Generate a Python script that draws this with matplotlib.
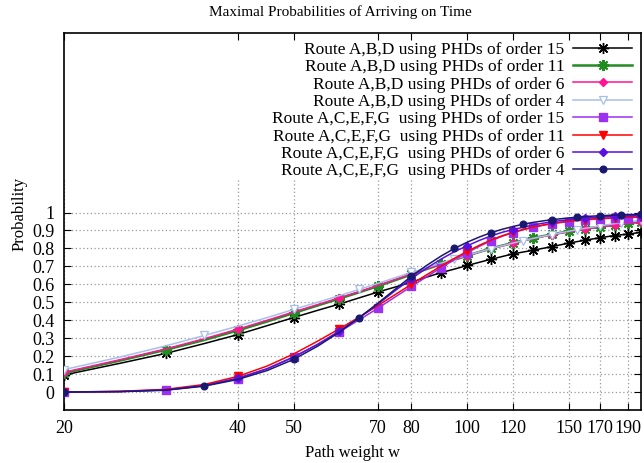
import matplotlib
matplotlib.use("Agg")
import matplotlib.pyplot as plt

plt.rcParams['font.family'] = ['Liberation Serif', 'DejaVu Serif']

x = list(range(20, 205, 5))

abd_15 = [0.095, 0.16, 0.215, 0.27, 0.32, 0.37, 0.415, 0.455, 0.49, 0.525, 0.557, 0.585, 0.612,
          0.64, 0.665, 0.685, 0.705, 0.723, 0.74, 0.755, 0.77, 0.78, 0.79, 0.80, 0.81, 0.82, 0.83,
          0.838, 0.846, 0.853, 0.86, 0.866, 0.872, 0.876, 0.88, 0.885, 0.89]
abd_11 = [0.105, 0.175, 0.235, 0.29, 0.343, 0.393, 0.44, 0.482, 0.52, 0.556, 0.59, 0.623, 0.655,
          0.685, 0.712, 0.737, 0.76, 0.781, 0.80, 0.816, 0.831, 0.845, 0.857, 0.868, 0.878, 0.887,
          0.895, 0.903, 0.91, 0.916, 0.922, 0.927, 0.932, 0.937, 0.941, 0.945, 0.948]
abd_6 = [0.11, 0.18, 0.24, 0.297, 0.35, 0.40, 0.446, 0.487, 0.525, 0.56, 0.594, 0.627, 0.658,
         0.687, 0.713, 0.738, 0.76, 0.78, 0.798, 0.814, 0.829, 0.843, 0.855, 0.866, 0.876, 0.885,
         0.893, 0.901, 0.908, 0.914, 0.92, 0.925, 0.93, 0.935, 0.939, 0.943, 0.946]
abd_4 = [0.125, 0.195, 0.257, 0.315, 0.367, 0.415, 0.46, 0.50, 0.537, 0.572, 0.605, 0.637, 0.666,
         0.693, 0.718, 0.741, 0.762, 0.781, 0.799, 0.815, 0.83, 0.844, 0.856, 0.867, 0.877, 0.887,
         0.896, 0.904, 0.912, 0.919, 0.926, 0.932, 0.938, 0.943, 0.948, 0.952, 0.956]
acefg_15 = [0.0, 0.003, 0.012, 0.035, 0.075, 0.13, 0.195, 0.265, 0.335, 0.403, 0.467, 0.53, 0.588,
            0.642, 0.692, 0.737, 0.777, 0.812, 0.843, 0.868, 0.888, 0.904, 0.917, 0.928, 0.937,
            0.944, 0.95, 0.955, 0.959, 0.962, 0.965, 0.967, 0.969, 0.971, 0.972, 0.973, 0.974]
acefg_11 = [0.0, 0.004, 0.015, 0.042, 0.087, 0.145, 0.212, 0.283, 0.352, 0.418, 0.482, 0.543, 0.60,
            0.653, 0.701, 0.745, 0.784, 0.818, 0.847, 0.871, 0.89, 0.906, 0.919, 0.93, 0.939,
            0.946, 0.952, 0.957, 0.961, 0.964, 0.967, 0.969, 0.971, 0.973, 0.974, 0.975, 0.976]
acefg_6 = [0.0, 0.003, 0.012, 0.036, 0.077, 0.13, 0.195, 0.265, 0.34, 0.415, 0.49, 0.565, 0.632,
           0.69, 0.74, 0.782, 0.815, 0.845, 0.87, 0.89, 0.905, 0.918, 0.93, 0.94, 0.948, 0.955,
           0.96, 0.965, 0.969, 0.972, 0.975, 0.977, 0.979, 0.98, 0.981, 0.982, 0.983]
acefg_4 = [0.0, 0.002, 0.01, 0.033, 0.07, 0.12, 0.182, 0.255, 0.333, 0.415, 0.495, 0.573, 0.645,
           0.705, 0.757, 0.80, 0.835, 0.864, 0.888, 0.907, 0.922, 0.935, 0.945, 0.953, 0.96,
           0.965, 0.97, 0.974, 0.977, 0.98, 0.982, 0.984, 0.986, 0.987, 0.988, 0.989, 0.99]

labels = [
    "Route A,B,D using PHDs of order 15",
    "Route A,B,D using PHDs of order 11",
    "Route A,B,D using PHDs of order 6",
    "Route A,B,D using PHDs of order 4",
    "Route A,C,E,F,G  using PHDs of order 15",
    "Route A,C,E,F,G  using PHDs of order 11",
    "Route A,C,E,F,G  using PHDs of order 6",
    "Route A,C,E,F,G  using PHDs of order 4",
]
xticks = [20, 40, 50, 70, 80, 100, 120, 150, 170, 190]
yticks = [0, 0.1, 0.2, 0.3, 0.4, 0.5, 0.6, 0.7, 0.8, 0.9, 1]
ytick_labels = ["0", "0.1", "0.2", "0.3", "0.4", "0.5", "0.6", "0.7", "0.8", "0.9", "1"]

series = [abd_15, abd_11, abd_6, abd_4, acefg_15, acefg_11, acefg_6, acefg_4]
styles = [
    dict(color="#000000", marker=(8, 2, 0), ms=8, lw=1.1, markevery=2, mew=1.0),
    dict(color="#228B22", marker=(8, 2, 0), ms=8, lw=1.8, markevery=2, mew=1.5),
    dict(color="#FF1493", marker="D", ms=4.5, lw=1.1, markevery=4),
    dict(color="#A8BEEB", marker="v", ms=5.5, lw=1.1, markevery=3, mfc="white", mew=0.9),
    dict(color="#9B30F0", marker="s", ms=5.5, lw=1.1, markevery=2),
    dict(color="#FF0000", marker="v", ms=5.5, lw=1.1, markevery=4),
    dict(color="#5A10E0", marker="D", ms=4.5, lw=1.1, markevery=4),
    dict(color="#191970", marker="o", ms=4.8, lw=1.1, markevery=3),
]

fig = plt.figure(figsize=(6.44, 4.63), dpi=100)
ax = fig.add_axes([64 / 644, 1 - 410 / 463, 577 / 644, 377 / 463])
ax.set_xscale("log")
ax.set_xlim(20, 200)
ax.set_ylim(-0.1, 2.0)

# grid
for yv in yticks:
    ax.axhline(yv, color="#999999", lw=0.9, ls=(0, (1, 2)), zorder=0)
ax.vlines(xticks, -0.1, 1.195, color="#999999", lw=0.9, linestyles=[(0, (1, 2))], zorder=0)

for vals, lab, st in zip(series, labels, styles):
    st = dict(st)
    ax.plot(x, vals, label=lab, color=st.pop("color"), marker=st.pop("marker"),
            markersize=st.pop("ms"), linewidth=st.pop("lw"), markevery=st.pop("markevery"),
            markerfacecolor=st.pop("mfc", None), markeredgewidth=st.pop("mew", 1.0), zorder=3)

ax.set_xticks(xticks)
ax.set_xticklabels([str(t) for t in xticks])
ax.xaxis.set_minor_locator(matplotlib.ticker.NullLocator())
ax.set_yticks(yticks)
ax.set_yticklabels(ytick_labels)
ax.tick_params(axis="both", which="both", direction="in", top=True, right=True,
               labelsize=13, length=5, width=0.8, pad=7)
for sp in ax.spines.values():
    sp.set_linewidth(1.2)

ax.set_xlabel("Path weight w", fontsize=12, labelpad=6)
ax.set_ylabel("Probability", fontsize=12)
ax.yaxis.set_label_coords(-0.063, 0.52)

fig.text(340 / 644, 1 - 12 / 463, "Maximal Probabilities of Arriving on Time",
         ha="center", va="center", fontsize=11)

leg = ax.legend(loc="upper right", frameon=False, markerfirst=False, fontsize=12.5,
                handlelength=3.4, labelspacing=0.07, borderaxespad=0.1, handletextpad=0.5,
                borderpad=0.4)
leg._legend_box.set_offset  # keep default placement

fig.savefig("out.png", dpi=100)
